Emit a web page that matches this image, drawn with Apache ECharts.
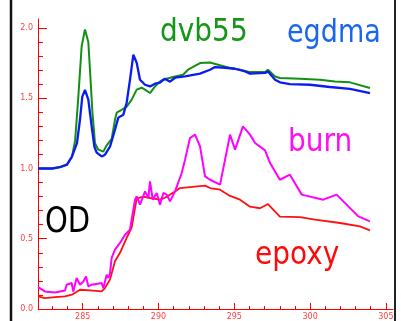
<!DOCTYPE html>
<html>
<head>
<meta charset="utf-8">
<script src="https://cdn.jsdelivr.net/npm/echarts@6/dist/echarts.min.js"></script>
<style>
  html, body { margin: 0; padding: 0; background: #fff; }
  #chart { width: 401px; height: 321px; }
</style>
</head>
<body>
<div id="chart"></div>
<script>
// axis range and ticks
const xMin = 282.05
const xMax = 305.47
const yMax = 2.064
const xMajor = [285, 290, 295, 300, 305]
const xMinor = [283, 284, 286, 287, 288, 289, 291, 292, 293, 294, 296, 297, 298, 299, 301, 302, 303, 304]
const yMajor = [0, 0.5, 1, 1.5, 2]
const yMinor = [0.1, 0.2, 0.3, 0.4, 0.6, 0.7, 0.8, 0.9, 1.1, 1.2, 1.3, 1.4, 1.6, 1.7, 1.8, 1.9]

// [x, OD]
const egdma = [
  [282.05, 1.0], [283.0, 1.0], [283.5, 1.01], [283.96, 1.027], [284.29, 1.084], [284.62, 1.18],
  [284.82, 1.347], [284.97, 1.51], [285.15, 1.56], [285.37, 1.49], [285.59, 1.3], [285.77, 1.155],
  [285.92, 1.113], [286.25, 1.086], [286.47, 1.098], [286.8, 1.155], [287.13, 1.276], [287.35, 1.362],
  [287.68, 1.383], [287.9, 1.468], [288.12, 1.632], [288.34, 1.81], [288.56, 1.753], [288.78, 1.632],
  [289.11, 1.596], [289.44, 1.584], [289.77, 1.604], [290.1, 1.611], [290.43, 1.639], [290.76, 1.618],
  [291.09, 1.646], [291.75, 1.656], [292.74, 1.675], [293.4, 1.703], [293.73, 1.722], [294.39, 1.717],
  [295.05, 1.71], [295.71, 1.691], [296.04, 1.675], [297.03, 1.68], [297.22, 1.691], [297.69, 1.632],
  [298.01, 1.613], [298.67, 1.601], [299.99, 1.596], [301.31, 1.58], [302.63, 1.566], [303.95, 1.537]
]
const dvb55 = [
  [282.05, 1.0], [283.0, 1.0], [283.5, 1.01], [283.96, 1.027], [284.29, 1.084], [284.5, 1.2],
  [284.71, 1.51], [284.93, 1.87], [285.15, 1.99], [285.37, 1.9], [285.48, 1.7], [285.64, 1.4],
  [285.81, 1.18], [286.03, 1.134], [286.36, 1.12], [286.58, 1.165], [286.91, 1.21], [287.13, 1.347],
  [287.24, 1.397], [287.57, 1.418], [287.9, 1.44], [288.23, 1.49], [288.56, 1.561], [288.89, 1.575],
  [289.11, 1.561], [289.44, 1.537], [289.77, 1.584], [290.1, 1.62], [290.3, 1.632], [290.96, 1.651],
  [291.62, 1.667], [291.95, 1.703], [292.74, 1.75], [293.4, 1.755], [293.93, 1.739], [294.72, 1.715],
  [295.38, 1.703], [296.04, 1.686], [297.03, 1.686], [297.22, 1.703], [297.69, 1.655], [298.01, 1.644],
  [299.33, 1.639], [300.65, 1.632], [301.64, 1.62], [302.63, 1.613], [303.95, 1.573]
]
const burn = [
  [282.05, 0.155], [282.51, 0.125], [283.17, 0.118], [283.83, 0.132], [283.94, 0.173], [284.27, 0.185],
  [284.38, 0.125], [284.6, 0.221], [284.82, 0.173], [285.04, 0.196], [285.22, 0.232], [285.37, 0.161],
  [285.59, 0.173], [286.25, 0.185], [286.36, 0.149], [286.58, 0.244], [286.69, 0.221], [286.8, 0.256],
  [286.91, 0.363], [287.13, 0.422], [287.46, 0.47], [287.79, 0.529], [288.12, 0.564], [288.45, 0.778],
  [288.56, 0.801], [288.78, 0.742], [289.11, 0.837], [289.33, 0.79], [289.44, 0.908], [289.62, 0.778],
  [289.88, 0.826], [290.1, 0.742], [290.32, 0.826], [290.54, 0.814], [290.76, 0.766], [291.09, 0.837],
  [291.53, 0.968], [291.75, 1.063], [292.08, 1.217], [292.41, 1.241], [292.74, 1.157], [293.07, 0.944],
  [293.4, 0.92], [294.06, 0.885], [294.39, 1.063], [294.72, 1.241], [295.05, 1.134], [295.57, 1.3],
  [296.04, 1.241], [296.37, 1.181], [297.03, 1.129], [297.36, 1.039], [298.01, 0.92], [298.67, 0.956],
  [299.45, 0.814], [300.87, 0.778], [301.75, 0.814], [303.18, 0.659], [303.95, 0.624]
]
const epoxy = [
  [282.05, 0.09], [282.51, 0.078], [283.17, 0.085], [283.83, 0.09], [284.29, 0.102], [284.82, 0.137],
  [285.48, 0.132], [286.25, 0.125], [286.47, 0.149], [286.8, 0.209], [287.13, 0.34], [287.46, 0.4],
  [287.9, 0.507], [288.23, 0.579], [288.56, 0.785], [289.0, 0.8], [289.44, 0.79], [290.1, 0.778],
  [290.43, 0.792], [291.09, 0.837], [291.42, 0.861], [292.08, 0.868], [293.07, 0.878], [293.4, 0.861],
  [294.06, 0.849], [294.72, 0.805], [295.38, 0.778], [296.04, 0.728], [296.7, 0.717], [297.22, 0.747],
  [298.01, 0.658], [299.33, 0.654], [300.33, 0.636], [301.98, 0.612], [303.29, 0.588], [303.95, 0.56]
]

const axisRed = '#ff0000'
const labelRed = '#ff4040'
const txtFont = '"Comic Sans MS", "DejaVu Sans", sans-serif'

const chart = echarts.init(document.getElementById('chart'), null, { renderer: 'canvas' })

const line = (name, data, color, width) => ({
  name,
  type: 'line',
  data,
  showSymbol: false,
  smooth: false,
  lineStyle: { color, width },
  itemStyle: { color },
  xAxisIndex: 0,
  yAxisIndex: 0
})

chart.setOption({
  animation: false,
  backgroundColor: '#fff',
  grid: { left: 38, right: 8, top: 19, bottom: 12, outerBoundsMode: 'none' },
  xAxis: [
    {
      type: 'value',
      min: xMin,
      max: xMax,
      axisLine: { lineStyle: { color: axisRed, width: 1 } },
      axisTick: { inside: true, length: 6, customValues: xMajor, lineStyle: { color: axisRed } },
      axisLabel: {
        customValues: xMajor,
        color: labelRed,
        fontSize: 8,
        fontFamily: 'DejaVu Sans',
        margin: 4
      },
      splitLine: { show: false }
    },
    {
      type: 'value',
      position: 'bottom',
      min: xMin,
      max: xMax,
      axisLine: { show: false },
      axisTick: { inside: true, length: 3, customValues: xMinor, lineStyle: { color: axisRed } },
      axisLabel: { show: false },
      splitLine: { show: false }
    }
  ],
  yAxis: [
    {
      type: 'value',
      min: 0,
      max: yMax,
      axisLine: { show: true, lineStyle: { color: axisRed, width: 1 } },
      axisTick: { show: true, inside: true, length: 9, customValues: yMajor, lineStyle: { color: axisRed } },
      axisLabel: {
        customValues: yMajor,
        formatter: (v) => v.toFixed(1),
        color: labelRed,
        fontSize: 8,
        fontFamily: 'DejaVu Sans',
        margin: 5
      },
      splitLine: { show: false }
    },
    {
      type: 'value',
      position: 'left',
      min: 0,
      max: yMax,
      axisLine: { show: false },
      axisTick: { show: true, inside: true, length: 5, customValues: yMinor, lineStyle: { color: axisRed } },
      axisLabel: { show: false },
      splitLine: { show: false }
    }
  ],
  series: [
    line('epoxy', epoxy, '#ff1010', 1.8),
    line('burn', burn, '#ff00ff', 2),
    line('dvb55', dvb55, '#129012', 2),
    line('egdma', egdma, '#0c1cf0', 2.3)
  ],
  graphic: [
    { type: 'line', shape: { x1: 11, y1: 0, x2: 11, y2: 321 }, style: { stroke: '#111', lineWidth: 2.5 } },
    { type: 'line', shape: { x1: 395, y1: 0, x2: 395, y2: 321 }, style: { stroke: '#222', lineWidth: 2 } },
    { type: 'text', x: 160, y: 33, scaleY: 1.15, style: { text: 'dvb55', fill: '#169616', font: '28px ' + txtFont, verticalAlign: 'middle' } },
    { type: 'text', x: 287, y: 34, scaleY: 1.15, style: { text: 'egdma', fill: '#1a66f0', font: '27px ' + txtFont, verticalAlign: 'middle' } },
    { type: 'text', x: 288, y: 143, scaleY: 1.15, style: { text: 'burn', fill: '#ff10f0', font: '28px ' + txtFont, verticalAlign: 'middle' } },
    { type: 'text', x: 255, y: 256, scaleY: 1.15, style: { text: 'epoxy', fill: '#ff0a0a', font: '28px ' + txtFont, verticalAlign: 'middle' } },
    { type: 'text', x: 45, y: 223, scaleY: 1.25, style: { text: 'OD', fill: '#000', font: '29px ' + txtFont, verticalAlign: 'middle' } }
  ]
})
</script>
</body>
</html>
